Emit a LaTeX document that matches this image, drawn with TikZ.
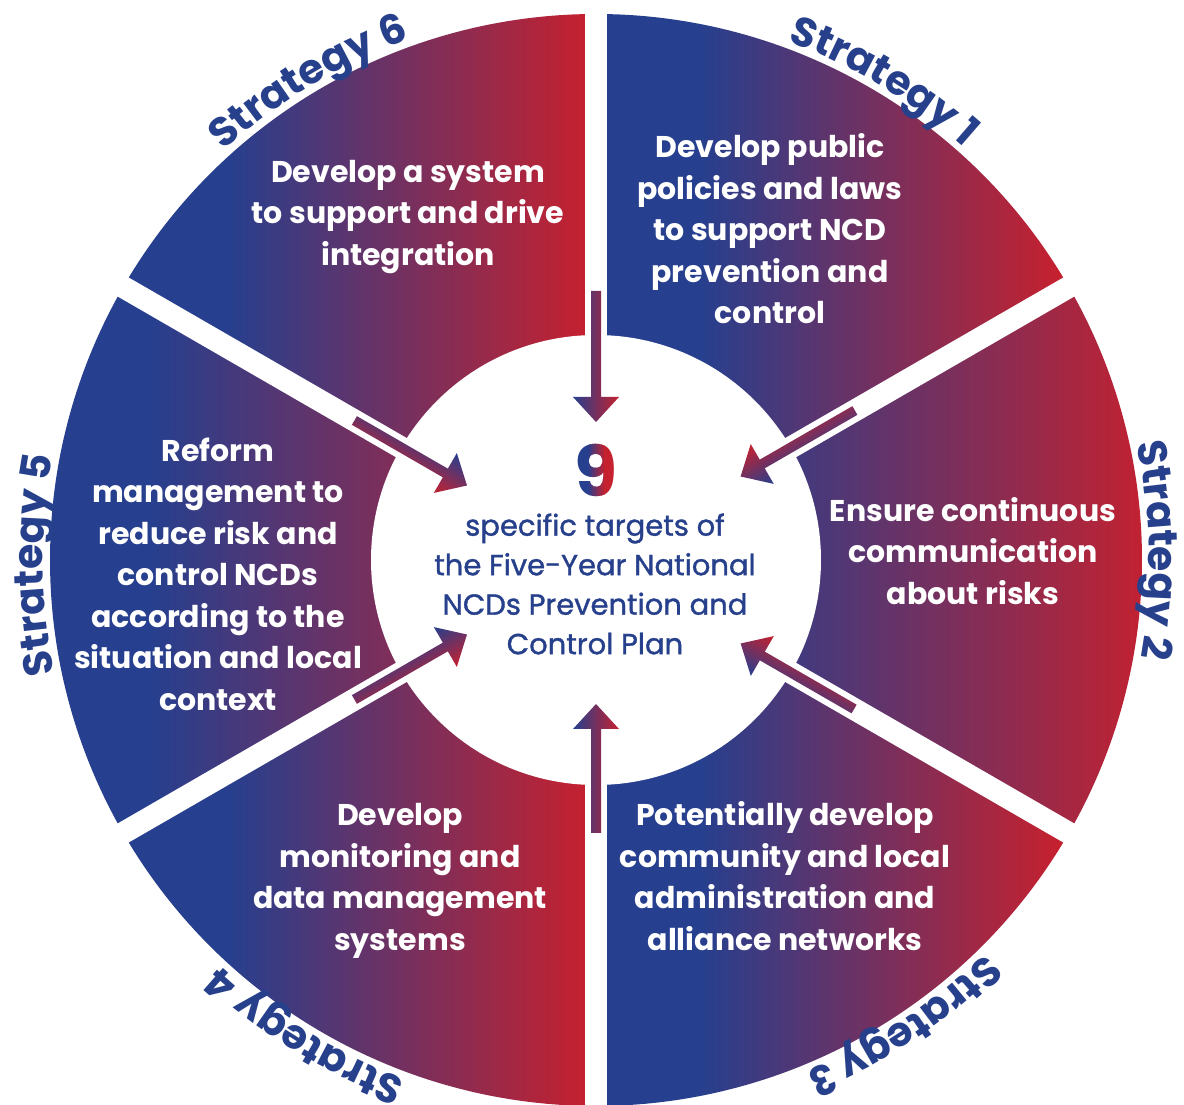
\documentclass[tikz,border=0pt]{standalone}
\usepackage{fontspec}
\setmainfont{Poppins}
\newfontface\corefont{Poppins}[FakeBold=1.2]
\usetikzlibrary{calc,decorations.text}

\definecolor{nblue}{RGB}{38,63,142}
\definecolor{nred}{RGB}{197,33,47}
\definecolor{tblue}{RGB}{39,64,140}

% blue holds for the left fifth of each wedge, then blends into red
\pgfdeclarehorizontalshading{sectorgrad}{100bp}{color(0bp)=(nblue); color(36bp)=(nblue); color(74bp)=(nred); color(100bp)=(nred)}

\newcommand\stratfont{\bfseries\fontsize{41}{48}\selectfont}

\tikzset{
  sector/.style={shading=sectorgrad},
  gapline/.style={draw=white, line width=22pt},
  arrowfill/.style={left color=nblue, right color=nred},
  sectortext/.style={text=white, align=center, inner sep=0pt,
    font=\bfseries\fontsize{30}{41.5}\selectfont},
  coretext/.style={text=tblue, align=center, inner sep=0pt,
    font=\corefont\fontsize{29}{39.5}\selectfont},
  ninestyle/.style={inner sep=0pt, font=\bfseries\fontsize{70}{70}\selectfont},
  stratlabel/.style={decorate, decoration={text along path, text align=center, text color=tblue}},
}

\begin{document}
\begin{tikzpicture}[x=1pt, y=1pt]
  \useasboundingbox (0,0) rectangle (1184,1104);
  \fill[white] (0,0) rectangle (1184,1104);
  \coordinate (C) at (596,544);

  % six wedges, each with its own left-to-right gradient
  \foreach \a in {30,90,150,210,270,330}
    \shade[sector] (C) -- ++(\a:546) arc[start angle=\a, end angle=\a+60, radius=546] -- cycle;

  % white gaps between the wedges
  \foreach \a in {30,90,150,210,270,330}
    \draw[gapline] (C) -- ++(\a:600);

  % white hub
  \fill[white] (C) circle[radius=225];

  % strategy texts
  \node[sectortext] (s1) at (770,875) {Develop public\\policies and laws\\to support NCD\\prevention and\\control};
  \node[sectortext] (s2) at (973,553) {Ensure continuous\\communication\\about risks};
  \node[sectortext] (s3) at (785,228) {Potentially develop\\community and local\\administration and\\alliance networks};
  \node[sectortext] (s4) at (400,223) {Develop\\monitoring and\\data management\\systems};
  \node[sectortext] (s5) at (218,530) {Reform\\management to\\reduce risk and\\control NCDs\\according to the\\situation and local\\context};
  \node[sectortext] (s6) at (408,887) {Develop a system\\to support and drive\\integration};

  % arrows pointing into the hub: tail x, tail y, rotation, x-scale, length
  \foreach \tx/\ty/\rot/\sx/\L in {
      596/813/180/-1/131,
      596/271/0/1/129,
      854.9/693.5/120/1/132,
      854.1/395/60/1/131,
      354.4/683.5/-120/1/130,
      354.4/404.5/-60/1/130} {
    \begin{scope}[transform canvas={shift={(\tx,\ty)}, rotate=\rot, xscale=\sx}]
      \shade[arrowfill] (-5,0) -- (-5,\L-25) -- (-23,\L-25) -- (0,\L)
        -- (23,\L-25) -- (5,\L-25) -- (5,0) -- cycle;
    \end{scope}
  }

  % the number, shaded blue to red in narrow bands
  \foreach \xa/\xb/\mix in {500/589/100, 589/592/85, 592/595/68, 595/598/50,
                             598/601/32, 601/604/15, 604/700/0} {
    \begin{scope}
      \clip (\xa,580) rectangle (\xb,690);
      \node[ninestyle, text=nblue!\mix!nred] (nine\xa) at (596,634) {9};
    \end{scope}
  }

  \node[coretext] (core) at (595,520) {specific targets of\\the Five-Year National\\NCDs Prevention and\\Control Plan};

  % curved strategy labels, read clockwise round the rim
  \path[stratlabel, decoration={text={|\stratfont|Strategy 1}}] ($(C)+(99:553)$) arc[start angle=99, end angle=19, radius=553];
  \path[stratlabel, decoration={text={|\stratfont|Strategy 2}}] ($(C)+(41:553)$) arc[start angle=41, end angle=-39, radius=553];
  \path[stratlabel, decoration={text={|\stratfont|Strategy 3}}] ($(C)+(-16.5:553)$) arc[start angle=-16.5, end angle=-96.5, radius=553];
  \path[stratlabel, decoration={text={|\stratfont|Strategy 4}}] ($(C)+(-81.5:553)$) arc[start angle=-81.5, end angle=-161.5, radius=553];
  \path[stratlabel, decoration={text={|\stratfont|Strategy 5}}] ($(C)+(220.5:553)$) arc[start angle=220.5, end angle=140.5, radius=553];
  \path[stratlabel, decoration={text={|\stratfont|Strategy 6}}] ($(C)+(161:553)$) arc[start angle=161, end angle=81, radius=553];
\end{tikzpicture}
\end{document}
